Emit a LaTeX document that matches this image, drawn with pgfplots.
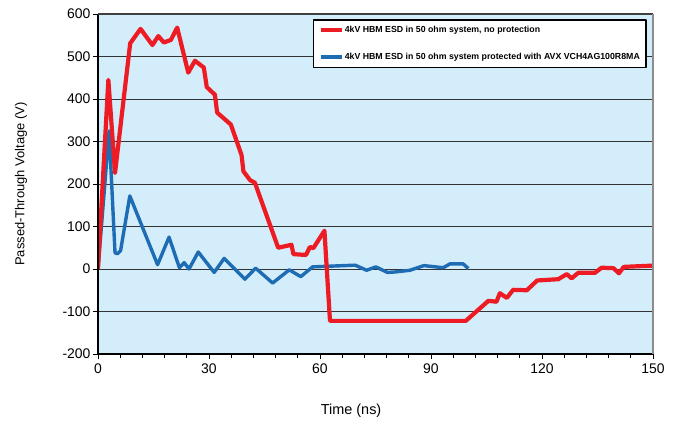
\documentclass[border=0pt]{standalone}
\usepackage{fontspec}
\setmainfont{Liberation Sans}
\usepackage{pgfplots}
\pgfplotsset{compat=1.18}
\definecolor{bgblue}{RGB}{212,237,250}
\definecolor{redl}{RGB}{237,28,36}
\definecolor{bluel}{RGB}{30,108,180}
\begin{document}
\begin{tikzpicture}
\useasboundingbox (-98bp,-72bp) rectangle (585bp,354bp);
\begin{axis}[
  scale only axis,
  width=555bp, height=340bp,
  xmin=0, xmax=150, ymin=-200, ymax=600,
  xtick={0,30,60,90,120,150},
  minor xtick={6,12,18,24,36,42,48,54,66,72,78,84,96,102,108,114,126,132,138,144},
  ytick={-200,-100,0,100,200,300,400,500,600},
  tick align=outside,
  major tick length=5bp, minor tick length=3.5bp,
  xtick pos=bottom, ytick pos=left,
  tick style={black, line width=0.9bp},
  ymajorgrids,
  grid style={black!80, line width=0.9bp},
  axis line style={draw=none},
  axis background/.style={fill=bgblue},
  /pgf/number format/assume math mode=true,
  ticklabel style={font=\fontsize{14}{16}\selectfont},
  xticklabel style={yshift=-1bp},
  yticklabel style={xshift=1bp},
  xlabel={Time (ns)},
  ylabel={Passed-Through Voltage (V)},
  xlabel style={at={(axis description cs:0.456,-0.1676)}, anchor=center, font=\fontsize{14.5}{16}\selectfont},
  ylabel style={at={(axis description cs:-0.1387,0.5)}, anchor=center, font=\fontsize{13}{15}\selectfont},
  legend style={at={(0.387,0.985)}, anchor=north west, draw=black, line width=1.6bp, fill=white,
    font=\bfseries\fontsize{8.8}{10}\selectfont, inner xsep=5bp, inner ysep=5bp, row sep=16bp,
    nodes={inner xsep=1bp, inner ysep=1.5bp}, cells={anchor=west}},
  legend image code/.code={\draw[#1] (0bp,0bp) -- (21bp,0bp);},
  reverse legend,
  line join=round,
  after end axis/.code={
    \draw[black, line width=1.8bp] (rel axis cs:0,1) -- (rel axis cs:0,0) -- (rel axis cs:1,0);
    \draw[black!75, line width=1.6bp] (rel axis cs:0,1) -- (rel axis cs:1,1);
    \draw[black!45, line width=1.4bp] (rel axis cs:1,1) -- (rel axis cs:1,0);
  },
]
\addplot[bluel, line width=3.4bp] coordinates {
(0,0) (3.0,325) (4.6,38) (5.3,36) (6.1,43) (8.6,172) (16.1,10) (19.2,75) (22,3) (23.3,15) (24.6,0) (27.1,40) (31.4,-8) (34.1,25) (39.7,-24) (42.6,2) (47.2,-33) (51.7,-2) (54.8,-18) (58,5) (69.5,9) (72.6,-3) (75.1,5) (78.2,-8) (80.3,-7) (84.3,-3) (88.1,8) (93.3,3) (95.1,12) (98.7,12) (100.1,1)
};
\addlegendentry{4kV HBM ESD in 50 ohm system protected with AVX VCH4AG100R8MA}
\addplot[redl, line width=4.2bp] coordinates {
(0,0) (2.8,445) (4.6,226) (8.7,531) (11.5,565) (14.7,527) (16.3,548) (17.8,533) (19.7,539) (21.4,568) (24.4,462) (26.2,490) (28.6,474) (29.4,428) (31.6,410) (32.2,368) (35.9,340) (38.8,268) (39.3,230) (41.1,209) (42.4,203) (48.7,50) (52.3,57) (52.8,35) (56.2,33) (57.3,52) (58.2,49) (61.2,90) (62.7,-122) (99.4,-122) (105.5,-75) (107.7,-77) (108.6,-57) (110.5,-68) (112.2,-49) (115.9,-50) (118.7,-27) (124.4,-24) (126.7,-12) (128,-22) (129.8,-9) (134.3,-9) (136.1,3) (139.3,2) (140.8,-10) (142.1,5) (150,8)
};
\addlegendentry{4kV HBM ESD in 50 ohm system, no protection}
\end{axis}
\end{tikzpicture}
\end{document}
